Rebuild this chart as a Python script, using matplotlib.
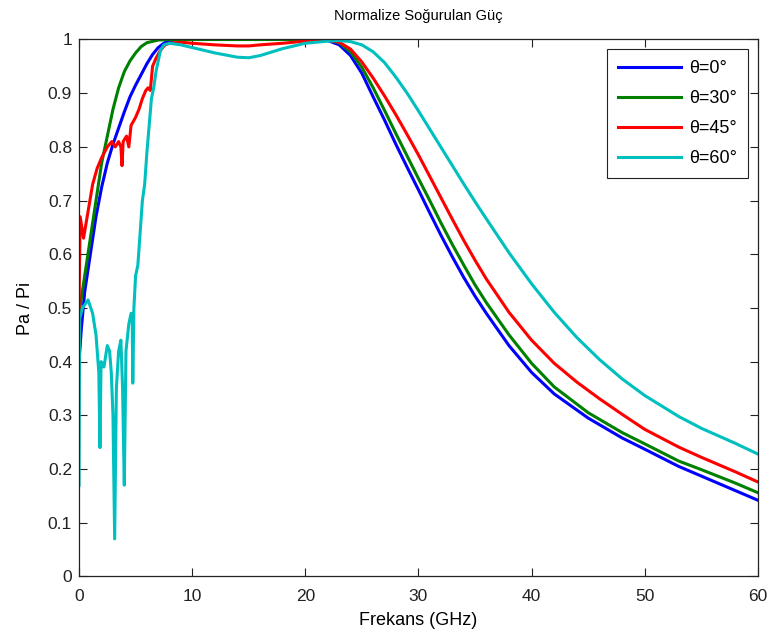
import matplotlib
matplotlib.use('Agg')
import matplotlib.pyplot as plt

plt.rcParams['font.family'] = ['Liberation Sans', 'DejaVu Sans']

# frequency (GHz) and normalized absorbed power
f_b = [0, 0.2, 0.5, 1, 1.5, 2, 2.5, 3, 3.5, 4, 4.5, 5, 5.5, 6, 6.5, 7, 7.5, 8, 9, 12,
       20, 22, 23, 24, 25, 26, 27, 28, 29, 30, 31, 32, 33, 34, 35, 36, 38, 40, 42,
       45, 48, 50, 53, 55, 58, 60]
p_b = [0.40, 0.46, 0.53, 0.60, 0.67, 0.725, 0.77, 0.805, 0.835, 0.865, 0.893, 0.915,
       0.935, 0.955, 0.972, 0.985, 0.993, 0.998, 1.0, 1.0,
       1.0, 0.998, 0.99, 0.97, 0.937, 0.893, 0.85, 0.805, 0.762, 0.72, 0.677,
       0.635, 0.595, 0.557, 0.522, 0.49, 0.43, 0.38, 0.34, 0.295, 0.258, 0.237,
       0.205, 0.187, 0.16, 0.142]

f_g = [0, 0.5, 1, 1.5, 2, 2.5, 3, 3.5, 4, 4.5, 5, 5.5, 6, 7, 8, 12,
       20, 22, 23, 24, 25, 26, 27, 28, 29, 30, 31, 32, 33, 34, 35, 36, 38, 40, 42,
       45, 48, 50, 53, 55, 58, 60]
p_g = [0.49, 0.56, 0.63, 0.70, 0.77, 0.82, 0.87, 0.91, 0.94, 0.96, 0.975, 0.987,
       0.994, 0.999, 1.0, 1.0,
       1.0, 0.999, 0.994, 0.977, 0.948, 0.91, 0.868, 0.825, 0.783, 0.741, 0.70,
       0.658, 0.618, 0.58, 0.543, 0.51, 0.45, 0.397, 0.353, 0.305, 0.268, 0.247,
       0.215, 0.199, 0.174, 0.156]

f_r = [0, 0.1, 0.4, 0.8, 1.2, 1.6, 2.0, 2.5, 2.9, 3.2, 3.5, 3.7, 3.8, 3.9, 4.2,
       4.4, 4.6, 5.0, 5.3, 5.6, 5.9, 6.1, 6.3, 6.5, 6.8, 7.2, 7.6, 8, 9, 10, 12,
       14, 15, 16, 18, 20, 21, 22,
       23, 24, 25, 26, 27, 28, 29, 30, 31, 32, 33, 34, 35, 36, 38, 40, 42, 44,
       46, 48, 50, 53, 55, 58, 60]
p_r = [0.50, 0.67, 0.63, 0.68, 0.73, 0.76, 0.78, 0.80, 0.81, 0.80, 0.81, 0.80,
       0.765, 0.81, 0.82, 0.80, 0.84, 0.855, 0.87, 0.89, 0.905, 0.91, 0.905,
       0.95, 0.965, 0.98, 0.99, 0.993, 0.995, 0.993, 0.99, 0.988, 0.988, 0.99,
       0.993, 0.997, 1.0, 0.999,
       0.995, 0.982, 0.958, 0.928, 0.895, 0.86, 0.823, 0.785, 0.745, 0.705,
       0.665, 0.626, 0.589, 0.554, 0.492, 0.44, 0.397, 0.362, 0.331, 0.302,
       0.274, 0.241, 0.222, 0.195, 0.176]

f_c = [0, 0.05, 0.3, 0.8, 1.2, 1.5, 1.75, 1.85, 1.95, 2.2, 2.5, 2.7, 2.85, 3.0,
       3.15, 3.3, 3.5, 3.7, 3.85, 4.0, 4.15, 4.4, 4.6, 4.7, 4.75, 4.85, 5.0, 5.2,
       5.4, 5.6, 5.8, 6.0, 6.2, 6.4, 6.6, 6.8, 7.0, 7.2, 7.5, 8, 9, 10, 12, 14,
       15, 16, 18, 20, 22, 23, 24,
       25, 26, 27, 28, 29, 30, 31, 32, 33, 34, 35, 36, 38, 40, 42, 44, 46, 48,
       50, 53, 55, 58, 60]
p_c = [0.17, 0.48, 0.50, 0.515, 0.49, 0.45, 0.38, 0.24, 0.40, 0.39, 0.43, 0.42,
       0.38, 0.30, 0.07, 0.35, 0.42, 0.44, 0.35, 0.17, 0.42, 0.47, 0.49, 0.49,
       0.36, 0.50, 0.56, 0.58, 0.64, 0.70, 0.73, 0.79, 0.84, 0.89, 0.91, 0.94,
       0.96, 0.98, 0.99, 0.993, 0.99, 0.985, 0.975, 0.967, 0.966, 0.97, 0.983,
       0.993, 0.997, 0.998, 0.996,
       0.99, 0.977, 0.957, 0.93, 0.9, 0.867, 0.833, 0.799, 0.765, 0.731, 0.698,
       0.666, 0.603, 0.545, 0.492, 0.445, 0.404, 0.368, 0.337, 0.298, 0.276,
       0.248, 0.228]

labels = ['θ=0°', 'θ=30°', 'θ=45°', 'θ=60°']
colors = [(0, 0, 1), (0, 0.5, 0), (1, 0, 0), (0, 0.75, 0.75)]

xticks = [0, 10, 20, 30, 40, 50, 60]
yticks = [0, 0.1, 0.2, 0.3, 0.4, 0.5, 0.6, 0.7, 0.8, 0.9, 1]
ytick_labels = ['0', '0.1', '0.2', '0.3', '0.4', '0.5', '0.6', '0.7', '0.8', '0.9', '1']

fig = plt.figure(figsize=(7.71, 6.37), dpi=100)
ax = fig.add_axes([0.1025, 0.095, 0.8805, 0.843])

series = [(f_b, p_b), (f_g, p_g), (f_r, p_r), (f_c, p_c)]
for (f, p), lab, col in zip(series, labels, colors):
    ax.plot(f, p, color=col, lw=2.2, label=lab)

ax.set_xlim(0, 60)
ax.set_ylim(0, 1)
ax.set_xticks(xticks)
ax.set_yticks(yticks)
ax.set_yticklabels(ytick_labels)
ax.tick_params(direction='in', length=6, width=0.8, top=True, right=True,
               labelsize=12.5, colors='#222222')
ax.tick_params(axis='x', pad=9)
ax.tick_params(axis='y', pad=5)
for s in ax.spines.values():
    s.set_color('#222222')
    s.set_linewidth(0.9)

ax.set_xlabel('Frekans (GHz)', fontsize=13, labelpad=6)
ax.set_ylabel('Pa / Pi', fontsize=13, labelpad=10)
ax.set_title('Normalize Soğurulan Güç', fontsize=10.5, pad=14)

leg = ax.legend(loc='upper right', fontsize=13, handlelength=3.5, handletextpad=0.45,
                labelspacing=0.72, borderpad=0.6, borderaxespad=0.55,
                fancybox=False, framealpha=1)
leg.get_frame().set_edgecolor('#222222')
leg.get_frame().set_linewidth(0.8)

fig.savefig('out.png', dpi=100)
